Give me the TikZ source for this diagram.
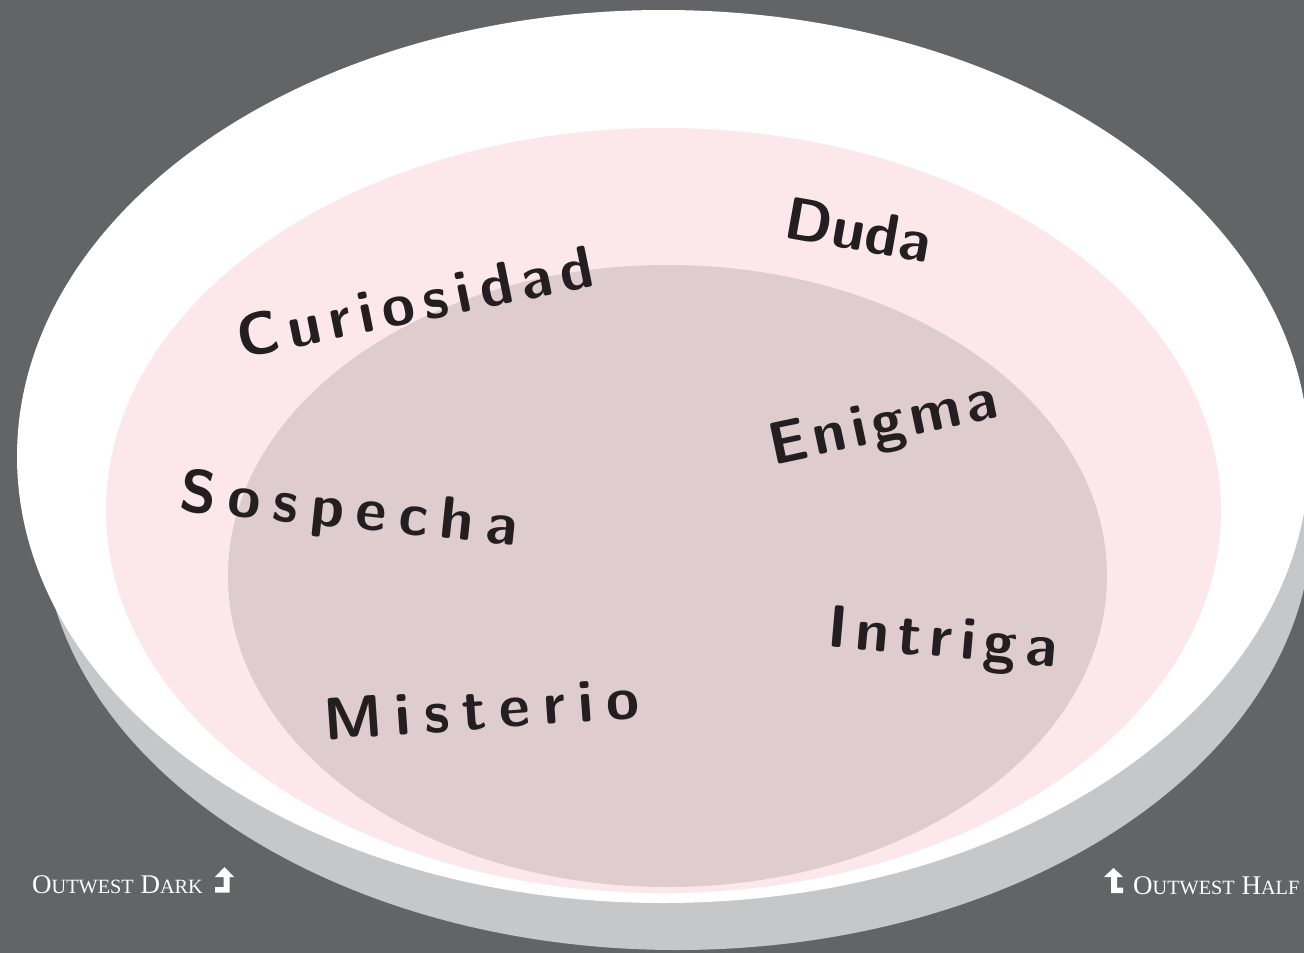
\documentclass[tikz,border=0pt]{standalone}
\usepackage{fontspec}
\newfontfamily\labfam{Liberation Serif}
\definecolor{bggrey}{HTML}{636466}
\definecolor{shadowgrey}{HTML}{C6C7C9}
\definecolor{pinkA}{HTML}{FCE8EA}
\definecolor{pinkB}{HTML}{DFCCCF}
\definecolor{wordcol}{HTML}{231F20}
\newcommand\wordfnt{\sffamily\bfseries\fontsize{60}{60}\selectfont}
\newcommand\labfnt{\labfam\fontsize{27}{27}\selectfont}
\newcommand\fsc[2]{#1{\fontsize{20.25}{20.25}\selectfont #2}}
\makeatletter
\newcommand\spc[2]{\def\spc@k{#1}\spc@go#2\@nil}
\def\spc@go#1#2\@nil{#1\ifx\relax#2\relax\else\kern\spc@k\spc@go#2\@nil\fi}
\makeatother
\begin{document}
\begin{tikzpicture}[x=1pt,y=-1pt,
  word/.style={text=wordcol, font=\wordfnt, inner sep=0pt, anchor=base},
  lab/.style={text=white, font=\labfnt, inner sep=0pt}]
\useasboundingbox (0,0) rectangle (1304,953);
\fill[bggrey] (0,0) rectangle (1304,953);
\fill[shadowgrey] (677,520) ellipse [x radius=635pt, y radius=430pt];
\fill[white] (663,456.5) ellipse [x radius=646pt, y radius=446.5pt];
\fill[pinkA] (663.5,510.5) ellipse [x radius=557.5pt, y radius=382.5pt];
\fill[pinkB] (667.5,576) ellipse [x radius=439.5pt, y radius=311pt];

\node[word, rotate=-10]  (duda) at (855,250) {Duda};
\node[word, rotate=11.5] (curiosidad) at (419,322) {\spc{8.5pt}{Curiosidad}};
\node[word, rotate=12]   (enigma) at (887,441) {\spc{5.5pt}{Enigma}};
\node[word, rotate=-6]   (sospecha) at (347,528) {\spc{12.2pt}{Sospecha}};
\node[word, rotate=-5]   (intriga) at (941,657) {\spc{8.3pt}{Intriga}};
\node[word, rotate=4]    (misterio) at (483,729) {\spc{13pt}{Misterio}};

\node[lab, anchor=base west] (dark) at (32,893) {\fsc{O}{UTWEST} \fsc{D}{ARK}};
\node[lab, anchor=base west] (half) at (1133,894) {\fsc{O}{UTWEST} \fsc{H}{ALF}};

\fill[white] (224.5,867) -- (234,877) -- (229.5,877) -- (229.5,892.5) -- (215,892.5)
  -- (215,887) -- (223.5,887) -- (223.5,877) -- (215,877) -- cycle;
\fill[white] (1113.5,868) -- (1123,877) -- (1117,877) -- (1117,887.5) -- (1123,887.5)
  -- (1123,893) -- (1111,893) -- (1111,877) -- (1104,877) -- cycle;
\end{tikzpicture}
\end{document}
